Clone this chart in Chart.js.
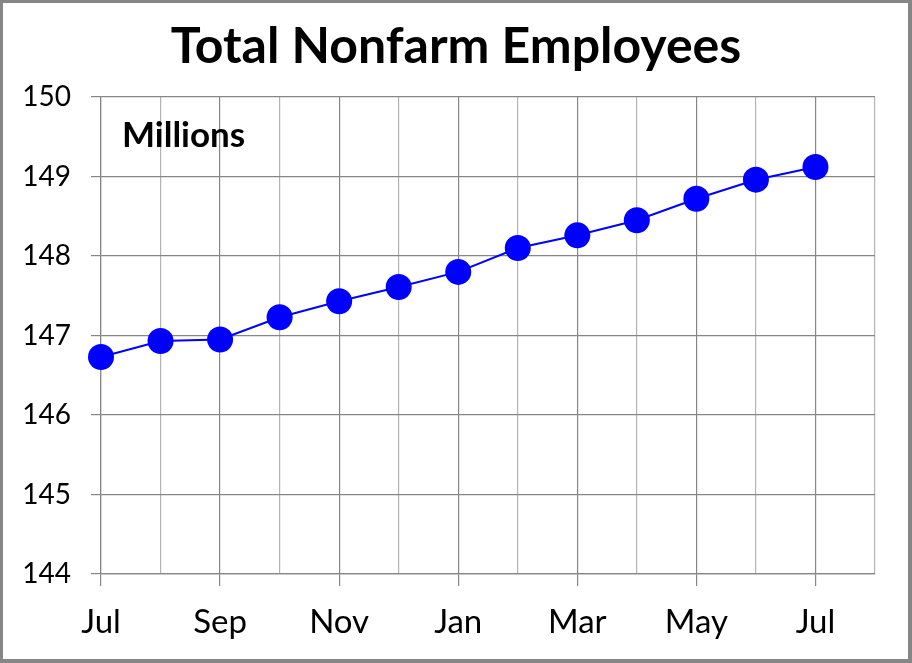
<!DOCTYPE html>
<html><head><meta charset="utf-8">
<script src="https://cdn.jsdelivr.net/npm/chart.js@4/dist/chart.umd.min.js"></script>
<style>html,body{margin:0;padding:0;background:#fff;overflow:hidden}canvas{display:block}</style>
</head><body>
<canvas id="c" width="912" height="663"></canvas>
<script>
const months = ['Jul','Aug','Sep','Oct','Nov','Dec','Jan','Feb','Mar','Apr','May','Jun','Jul',''];
const employees = [146.73,146.93,146.95,147.23,147.43,147.61,147.80,148.10,148.26,148.45,148.72,148.96,149.12];
const yMin = 144, yMax = 150, yStep = 1;
const chartTitle = 'Total Nonfarm Employees';
const unitLabel = 'Millions';

const FONT = 'Lato, "Open Sans", sans-serif';

const framePlugin = {
  id: 'frame',
  afterDraw(chart) {
    const ctx = chart.ctx;
    const ca = chart.chartArea;
    ctx.save();
    ctx.font = 'bold 35px ' + FONT;
    ctx.fillStyle = '#000';
    ctx.textBaseline = 'middle';
    ctx.textAlign = 'left';
    ctx.fillText(unitLabel, ca.left + 21, ca.top + 39);
    ctx.fillStyle = '#868686';
    const w = chart.width, h = chart.height;
    ctx.fillRect(0, 0, w, 3);
    ctx.fillRect(0, 0, 3, h);
    ctx.fillRect(w - 4, 0, 4, h);
    ctx.fillRect(0, h - 4, w, 4);
    ctx.restore();
  }
};

new Chart(document.getElementById('c'), {
  type: 'line',
  data: {
    labels: months,
    datasets: [{
      data: employees,
      borderColor: '#0000ff',
      backgroundColor: '#0000ff',
      borderWidth: 2,
      pointRadius: 13,
      pointHoverRadius: 13,
      pointBorderWidth: 0,
      tension: 0
    }]
  },
  options: {
    responsive: false,
    animation: false,
    layout: { padding: 0 },
    plugins: {
      legend: { display: false },
      tooltip: { enabled: false },
      title: {
        display: true,
        text: chartTitle,
        color: '#000',
        font: { family: FONT, size: 50, weight: 'bold', lineHeight: 1.2 },
        padding: { top: 17, bottom: 20 }
      }
    },
    scales: {
      x: {
        offset: false,
        afterFit(scale) { scale.height = 663 - 574; },
        grid: {
          color: (c) => (c.index % 2 === 0 ? '#868686' : '#b4b4b4'),
          tickColor: (c) => (c.index % 2 === 0 && c.index < 13 ? '#868686' : 'rgba(0,0,0,0)'),
          tickLength: 12,
          lineWidth: 1.2
        },
        border: { color: '#868686', width: 1.2 },
        ticks: {
          autoSkip: false,
          maxRotation: 0,
          color: '#000',
          font: { family: FONT, size: 33 },
          padding: 17,
          callback: (v, i) => (i % 2 === 0 ? months[i] : '')
        }
      },
      y: {
        min: yMin, max: yMax,
        afterFit(scale) { scale.width = 101; },
        grid: { color: '#868686', tickLength: 10, lineWidth: 1.2 },
        border: { color: '#868686', width: 1.2 },
        ticks: {
          stepSize: yStep,
          color: '#000',
          font: { family: FONT, size: 28 },
          padding: 20
        }
      },
      yRightSpace: {
        position: 'right',
        min: yMin, max: yMax,
        afterFit(scale) { scale.width = 912 - 875; },
        grid: { display: false, drawTicks: false },
        border: { display: false },
        ticks: { display: false }
      }
    }
  },
  plugins: [framePlugin]
});
</script>
</body></html>
